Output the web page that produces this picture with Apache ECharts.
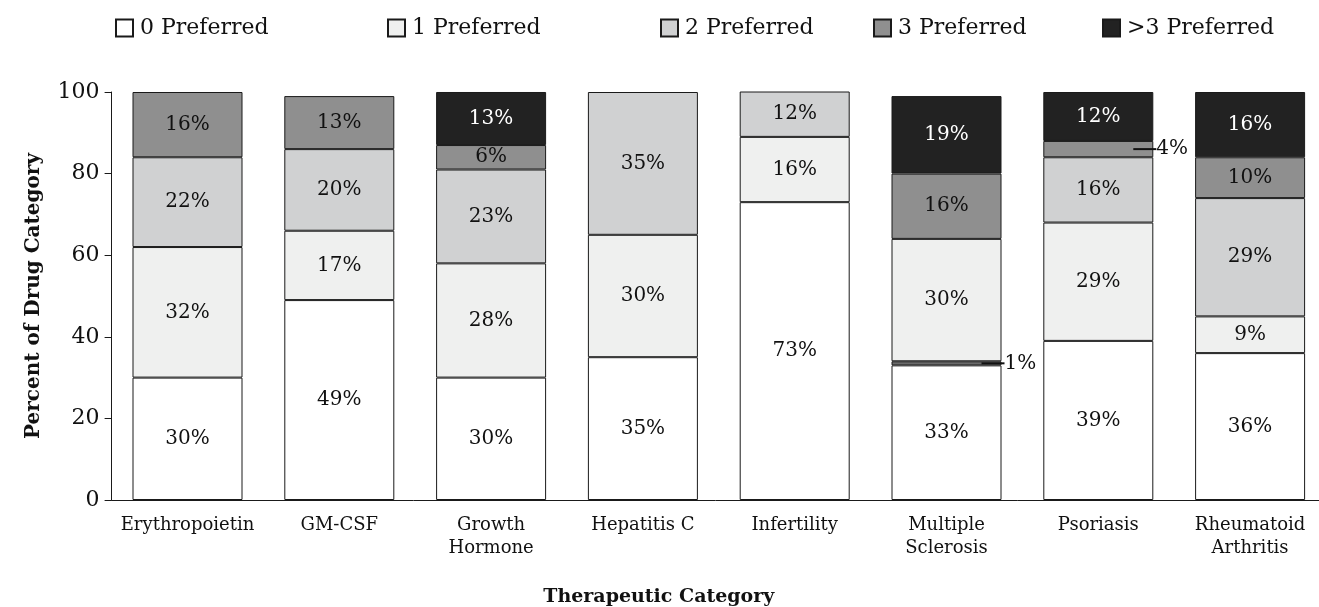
<!DOCTYPE html>
<html>
<head>
<meta charset="utf-8">
<script src="https://cdn.jsdelivr.net/npm/echarts@6/dist/echarts.min.js"></script>
<style>html,body{margin:0;padding:0;background:#fff}#chart{width:1319px;height:607px}</style>
</head>
<body>
<div id="chart"></div>
<script>
const categories = ['Erythropoietin', 'GM-CSF', 'Growth\nHormone', 'Hepatitis C', 'Infertility', 'Multiple\nSclerosis', 'Psoriasis', 'Rheumatoid\nArthritis'];
const seriesNames = ['0 Preferred', '1 Preferred', '2 Preferred', '3 Preferred', '>3 Preferred'];
const pref0 = [30, 49, 30, 35, 73, 33, 39, 36];
const pref1 = [32, 17, 28, 30, 16, 1, 29, 9];
const pref2 = [22, 20, 23, 35, 12, 30, 16, 29];
const pref3 = [16, 13, 6, 0, 0, 16, 4, 10];
const pref4 = [0, 0, 13, 0, 0, 19, 12, 16];
const yTicks = [0, 20, 40, 60, 80, 100];

const allValues = [pref0, pref1, pref2, pref3, pref4];
const colors = ['#ffffff', '#eff0ef', '#d0d1d2', '#8f8f8f', '#222222'];
const labelColors = ['#111', '#111', '#111', '#111', '#ffffff'];
const FONT = 'DejaVu Serif';
const legendLeft = [115, 387, 660, 873, 1102];
// Multiple Sclerosis appears with swapped shading in the original figure
const colorOverride = { '1-5': '#6a6a6a', '2-5': '#eff0ef' };

const series = allValues.map((vals, si) => ({
  name: seriesNames[si],
  type: 'bar',
  stack: 'total',
  barWidth: 110,
  itemStyle: { color: colors[si], borderColor: '#1a1a1a', borderWidth: 1 },
  label: {
    show: true, position: 'inside', color: labelColors[si],
    fontFamily: FONT, fontSize: 20, formatter: p => p.value + '%'
  },
  data: vals.map((v, ci) => {
    if (!v) return '-';
    const item = { value: v };
    const key = si + '-' + ci;
    if (colorOverride[key]) item.itemStyle = { color: colorOverride[key] };
    if (v < 5) {
      item.label = {
        show: true, position: 'right', distance: 0, offset: [-20, 0],
        formatter: '{l|}{v|' + v + '%}',
        rich: {
          l: { width: 23, height: 2, backgroundColor: '#111', verticalAlign: 'middle' },
          v: { fontFamily: FONT, fontSize: 20, color: '#111', verticalAlign: 'middle' }
        }
      };
    }
    return item;
  })
}));

const legends = seriesNames.map((n, i) => ({
  data: [n], left: legendLeft[i], top: 17, icon: 'rect', padding: 0,
  itemWidth: 17, itemHeight: 17, itemGap: 0,
  textStyle: { fontFamily: FONT, fontSize: 22, color: '#111', padding: [0, 0, 0, 2] },
  selectedMode: false
}));

const chart = echarts.init(document.getElementById('chart'), null, { renderer: 'canvas' });
chart.setOption({
  backgroundColor: '#ffffff',
  animation: false,
  legend: legends,
  grid: { left: 111.6, right: -7, top: 92, bottom: 107, containLabel: false, outerBoundsMode: 'none' },
  xAxis: {
    type: 'category', data: categories,
    name: 'Therapeutic Category', nameLocation: 'middle', nameGap: 88,
    nameTextStyle: { fontFamily: FONT, fontSize: 19, fontWeight: 'bold', color: '#111', padding: [0, 120, 0, 0] },
    axisLine: { lineStyle: { color: '#1a1a1a', width: 1 } },
    axisTick: { show: false },
    axisLabel: { interval: 0, fontFamily: FONT, fontSize: 18, color: '#111', margin: 14, lineHeight: 23 }
  },
  yAxis: {
    type: 'value', min: 0, max: 100, interval: 20,
    name: 'Percent of Drug Category', nameLocation: 'middle', nameGap: 68,
    nameTextStyle: { fontFamily: FONT, fontSize: 20, fontWeight: 'bold', color: '#111' },
    axisLine: { show: true, lineStyle: { color: '#1a1a1a', width: 1 } },
    axisTick: { show: true, length: 7, lineStyle: { color: '#1a1a1a' } },
    splitLine: { show: false },
    axisLabel: { fontFamily: FONT, fontSize: 22, color: '#111', margin: 12,
      formatter: v => yTicks.includes(v) ? String(v) : '' }
  },
  series: series
});
</script>
</body>
</html>
